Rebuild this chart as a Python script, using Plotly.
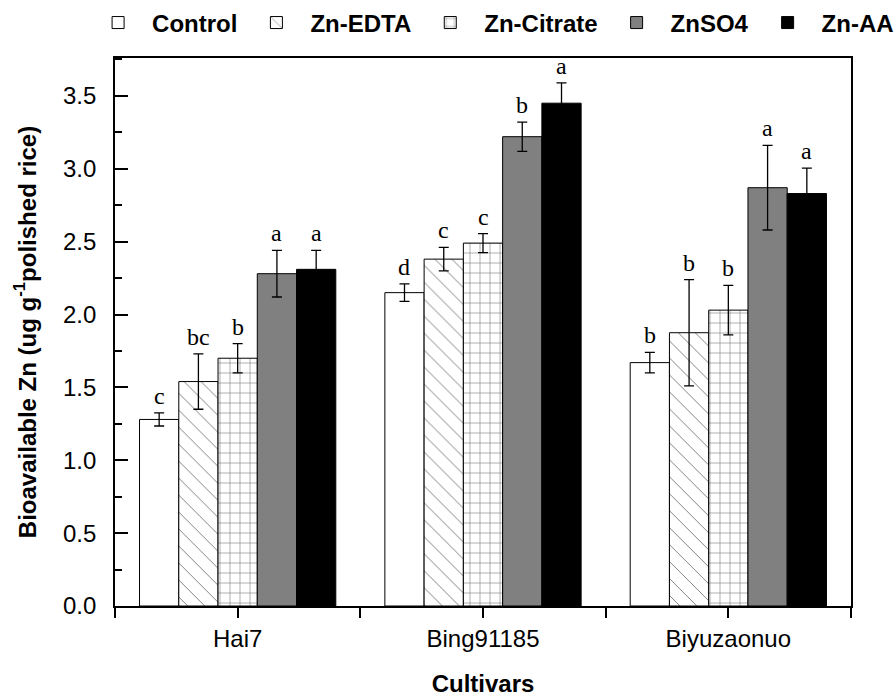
import plotly.graph_objects as go

cultivars = ["Hai7", "Bing91185", "Biyuzaonuo"]
treatments = ["Control", "Zn-EDTA", "Zn-Citrate", "ZnSO4", "Zn-AA"]

control = [1.28, 2.15, 1.67]
control_err = [0.045, 0.06, 0.07]
edta = [1.54, 2.38, 1.875]
edta_err = [0.19, 0.08, 0.365]
citrate = [1.70, 2.49, 2.03]
citrate_err = [0.10, 0.065, 0.17]
znso4 = [2.28, 3.22, 2.87]
znso4_err = [0.16, 0.10, 0.29]
znaa = [2.31, 3.45, 2.83]
znaa_err = [0.13, 0.14, 0.175]

letters_control = ["c", "d", "b"]
letters_edta = ["bc", "c", "b"]
letters_citrate = ["b", "c", "b"]
letters_znso4 = ["a", "b", "a"]
letters_znaa = ["a", "a", "a"]

series = [
    ("Control", control, control_err, letters_control, dict(color="white")),
    ("Zn-EDTA", edta, edta_err, letters_edta,
     dict(color="white", pattern=dict(shape="\\", fgcolor="black", bgcolor="white", size=12, solidity=0.08))),
    ("Zn-Citrate", citrate, citrate_err, letters_citrate,
     dict(color="white", pattern=dict(shape="+", fgcolor="black", bgcolor="white", size=10, solidity=0.12))),
    ("ZnSO4", znso4, znso4_err, letters_znso4, dict(color="#808080")),
    ("Zn-AA", znaa, znaa_err, letters_znaa, dict(color="black")),
]

xpos = list(range(len(cultivars)))
fig = go.Figure()
n = len(series)
bargap = 0.2
bw = (1 - bargap) / n
annotations = []
for j, (name, vals, errs, letters, mk) in enumerate(series):
    marker = dict(mk)
    marker["line"] = dict(color="black", width=1)
    fig.add_trace(go.Bar(
        name=name, x=xpos, y=vals,
        error_y=dict(type="data", array=errs, color="black", thickness=1.3, width=5),
        marker=marker,
    ))
    for i in range(len(xpos)):
        annotations.append(dict(
            x=xpos[i] + (j - (n - 1) / 2) * bw, y=vals[i] + errs[i],
            xref="x", yref="y", text=letters[i], showarrow=False,
            yanchor="bottom", yshift=2,
            font=dict(family="Liberation Serif", size=24, color="black"),
        ))

fig.update_layout(
    width=895, height=697,
    margin=dict(l=115, r=44, t=58, b=91, autoexpand=False),
    paper_bgcolor="white", plot_bgcolor="white",
    barmode="group", bargap=bargap, bargroupgap=0,
    font=dict(family="Liberation Sans", color="black"),
    showlegend=True,
    legend=dict(orientation="h", x=-0.042, y=1.105, xanchor="left", yanchor="top",
                font=dict(family="Liberation Sans", size=24, color="black", weight="bold"),
                itemwidth=58,
                traceorder="normal", bgcolor="rgba(0,0,0,0)"),
    annotations=annotations,
)
fig.update_xaxes(
    range=[-0.5, 2.5],
    automargin=False,
    tickmode="array",
    tickvals=xpos,
    ticktext=cultivars,
    ticks="outside", ticklen=10, tickwidth=1.5, tickcolor="black",
    minor=dict(tickmode="array", tickvals=[-0.5, 0.5, 1.5, 2.5], ticks="outside",
               ticklen=10, tickwidth=1.5, tickcolor="black"),
    ticklabelstandoff=0,
    showline=True, linecolor="black", linewidth=1.8, mirror=True,
    showgrid=False, zeroline=False,
    tickfont=dict(family="Liberation Sans", size=24, color="black"),
    title=dict(text="Cultivars", font=dict(family="Liberation Sans", size=24, color="black", weight="bold"), standoff=24),
)
fig.update_yaxes(
    range=[0, 3.76],
    automargin=False,
    tickmode="linear", tick0=0, dtick=0.5, tickformat=".1f",
    ticks="inside", ticklen=13, tickwidth=1.5, tickcolor="black",
    minor=dict(dtick=0.25, tick0=0, ticks="inside", ticklen=7, tickwidth=1.5, tickcolor="black"),
    ticklabelstandoff=12,
    showline=True, linecolor="black", linewidth=1.8, mirror=True,
    showgrid=False, zeroline=False,
    tickfont=dict(family="Liberation Sans", size=24, color="black"),
    title=dict(text="Bioavailable Zn (ug g<sup>-1</sup>polished rice)",
               font=dict(family="Liberation Sans", size=24, color="black", weight="bold"), standoff=20),
)

fig.write_html("out.html")
